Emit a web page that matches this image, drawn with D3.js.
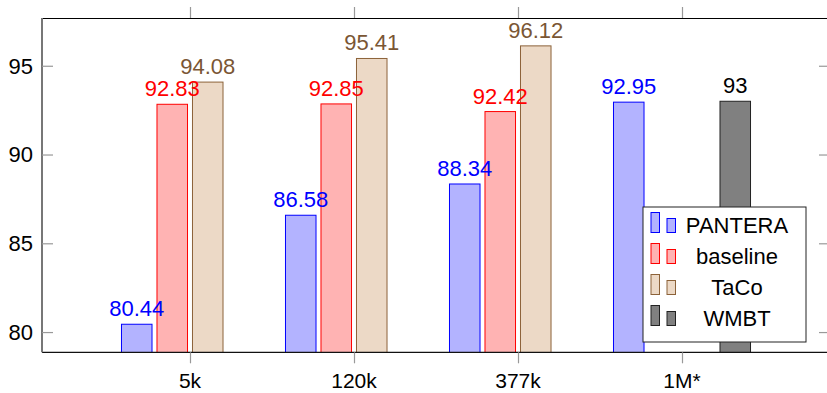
<!DOCTYPE html>
<html>
<head>
<meta charset="utf-8">
<script src="https://cdn.jsdelivr.net/npm/d3@7"></script>
<style>
  html, body { margin: 0; padding: 0; background: #fff; }
  svg { display: block; font-family: "Liberation Sans", Arial, sans-serif; }
</style>
</head>
<body>
<svg id="chart" width="827" height="393"></svg>
<script>
// Accuracy per training-set size
const categories = ["5k", "120k", "377k", "1M*"];
const seriesNames = ["PANTERA", "baseline", "TaCo", "WMBT"];
const panteraValues = [80.44, 86.58, 88.34, 92.95];
const baselineValues = [92.83, 92.85, 92.42, null];
const tacoValues = [94.08, 95.41, 96.12, null];
const wmbtValues = [null, null, null, 93];
const yTickValues = [80, 85, 90, 95];

const seriesStyle = {
  PANTERA:  { fill: "#b3b3ff", stroke: "#0000ff", text: "#0000ff" },
  baseline: { fill: "#ffb3b3", stroke: "#ff0000", text: "#ff0000" },
  TaCo:     { fill: "#ecd9c6", stroke: "#8c6239", text: "#7a5634" },
  WMBT:     { fill: "#808080", stroke: "#222222", text: "#000000" }
};

const series = [
  { name: "PANTERA", values: panteraValues },
  { name: "baseline", values: baselineValues },
  { name: "TaCo", values: tacoValues },
  { name: "WMBT", values: wmbtValues }
];

const plot = { left: 42, right: 830, top: 18, bottom: 352.3 };
const svg = d3.select("#chart");

const x = d3.scalePoint()
  .domain(categories)
  .range([plot.left, plot.right])
  .padding(0.9024);

const slot = d3.scaleBand()
  .domain(seriesNames)
  .range([-71, 71])
  .paddingInner(0.14)
  .paddingOuter(0.07);

const y = d3.scaleLinear()
  .domain([78.86, 97.69])
  .range([plot.bottom, plot.top]);

svg.append("defs").append("clipPath").attr("id", "plotclip")
  .append("rect")
  .attr("x", plot.left).attr("y", plot.top)
  .attr("width", plot.right - plot.left)
  .attr("height", plot.bottom - plot.top);

// Bars and value labels
const barLayer = svg.append("g").attr("clip-path", "url(#plotclip)");
const labelLayer = svg.append("g");

series.forEach(s => {
  const st = seriesStyle[s.name];
  const pts = categories
    .map((c, i) => ({ cat: c, v: s.values[i] }))
    .filter(d => d.v != null);

  barLayer.selectAll(null).data(pts).enter().append("rect")
    .attr("x", d => x(d.cat) + slot(s.name))
    .attr("y", d => y(d.v))
    .attr("width", slot.bandwidth())
    .attr("height", d => y.range()[0] - y(d.v) + 2)
    .attr("fill", st.fill)
    .attr("stroke", st.stroke)
    .attr("stroke-width", 1);

  labelLayer.selectAll(null).data(pts).enter().append("text")
    .attr("x", d => x(d.cat) + slot(s.name) + slot.bandwidth() / 2)
    .attr("y", d => y(d.v) - 8)
    .attr("text-anchor", "middle")
    .attr("font-size", 22)
    .attr("fill", st.text)
    .text(d => d.v);
});

// Axis frame
const frame = svg.append("g").attr("fill", "none");
frame.append("line")
  .attr("x1", plot.left).attr("x2", plot.right)
  .attr("y1", plot.top + 0.5).attr("y2", plot.top + 0.5)
  .attr("stroke", "#000").attr("stroke-width", 1.2);
frame.append("line")
  .attr("x1", plot.left).attr("x2", plot.right)
  .attr("y1", plot.bottom).attr("y2", plot.bottom)
  .attr("stroke", "#111").attr("stroke-width", 1.2);
frame.append("line")
  .attr("x1", plot.left).attr("x2", plot.left)
  .attr("y1", plot.top).attr("y2", plot.bottom)
  .attr("stroke", "#777").attr("stroke-width", 2);

// y axis: ticks pointing inward on both sides
const yAxisLeft = d3.axisRight(y).tickValues(yTickValues).tickSize(11).tickFormat("");
svg.append("g").attr("transform", `translate(${plot.left},0)`).call(yAxisLeft)
  .call(g => g.select(".domain").remove())
  .call(g => g.selectAll(".tick line").attr("stroke", "#999").attr("stroke-width", 1.2));

const yAxisRight = d3.axisLeft(y).tickValues(yTickValues).tickSize(11).tickFormat("");
svg.append("g").attr("transform", `translate(${plot.right},0)`).call(yAxisRight)
  .call(g => g.select(".domain").remove())
  .call(g => g.selectAll(".tick line").attr("stroke", "#999").attr("stroke-width", 1.2));

svg.append("g").selectAll("text").data(yTickValues).enter().append("text")
  .attr("x", 33)
  .attr("y", d => y(d))
  .attr("dy", "0.36em")
  .attr("text-anchor", "end")
  .attr("font-size", 22)
  .attr("fill", "#000")
  .text(d => d);

// x axis: ticks pointing outward at top and bottom
const xAxisBottom = d3.axisBottom(x).tickSize(11).tickFormat("");
svg.append("g").attr("transform", `translate(0,${plot.bottom})`).call(xAxisBottom)
  .call(g => g.select(".domain").remove())
  .call(g => g.selectAll(".tick line").attr("stroke", "#999").attr("stroke-width", 1.2));

const xAxisTop = d3.axisTop(x).tickSize(11).tickFormat("");
svg.append("g").attr("transform", `translate(0,${plot.top})`).call(xAxisTop)
  .call(g => g.select(".domain").remove())
  .call(g => g.selectAll(".tick line").attr("stroke", "#999").attr("stroke-width", 1.2));

svg.append("g").selectAll("text").data(categories).enter().append("text")
  .attr("x", d => x(d))
  .attr("y", 388)
  .attr("text-anchor", "middle")
  .attr("font-size", 21)
  .attr("fill", "#000")
  .text(d => d);

// Legend
const legend = svg.append("g");
legend.append("rect")
  .attr("x", 643).attr("y", 207)
  .attr("width", 163).attr("height", 135)
  .attr("fill", "#fff").attr("stroke", "#222").attr("stroke-width", 1);

seriesNames.forEach((name, i) => {
  const st = seriesStyle[name];
  const cy = 225.5 + i * 31;
  legend.append("rect")
    .attr("x", 651).attr("y", cy - 13)
    .attr("width", 8.5).attr("height", 20)
    .attr("fill", st.fill).attr("stroke", st.stroke).attr("stroke-width", 1);
  legend.append("rect")
    .attr("x", 667).attr("y", cy - 7)
    .attr("width", 8.5).attr("height", 14)
    .attr("fill", st.fill).attr("stroke", st.stroke).attr("stroke-width", 1);
  legend.append("text")
    .attr("x", 737).attr("y", cy)
    .attr("dy", "0.36em")
    .attr("text-anchor", "middle")
    .attr("font-size", 22)
    .attr("fill", "#000")
    .text(name);
});
</script>
</body>
</html>
